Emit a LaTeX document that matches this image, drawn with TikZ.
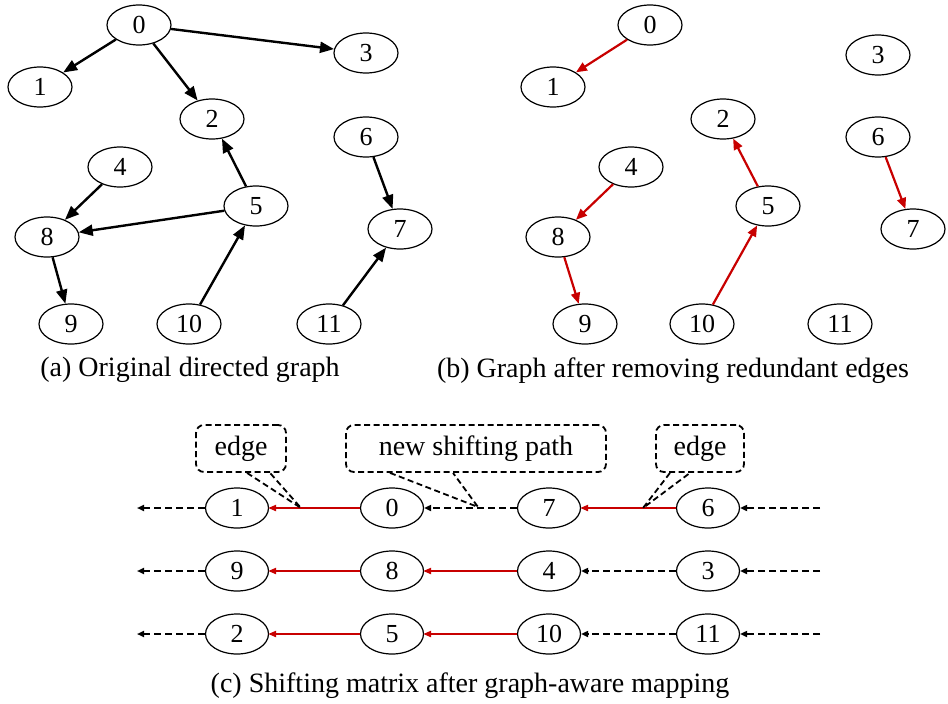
\documentclass[tikz,border=0pt]{standalone}
\usepackage{fontspec}
\setmainfont{Liberation Serif}
\usetikzlibrary{arrows.meta,shapes.geometric,calc}
\definecolor{edgered}{RGB}{200,0,0}
\begin{document}
\begin{tikzpicture}[x=1pt,y=-1pt,
  vtx/.style={draw,ellipse,line width=1.2pt,minimum width=64pt,minimum height=40pt,inner sep=0pt,
              font=\fontsize{26}{30}\selectfont},
  blk/.style={line width=2.4pt,-{Triangle[length=14pt,width=11pt]}},
  redge/.style={draw=edgered,line width=2.2pt,-{Triangle[length=11pt,width=9pt]}},
  rshift/.style={draw=edgered,line width=2pt,-{Triangle[length=8pt,width=6pt]},shorten >=-1pt},
  dedge/.style={line width=1.8pt,dash pattern=on 7pt off 4pt,-{Triangle[length=7pt,width=6pt]}},
  callout/.style={draw,line width=1.8pt,dash pattern=on 6pt off 3.5pt,rounded corners=8pt,
                  minimum height=47pt,inner sep=0pt,font=\fontsize{28}{33}\selectfont},
  tail/.style={line width=1.8pt,dash pattern=on 6pt off 3.5pt},
  captext/.style={font=\fontsize{28}{33}\selectfont,inner sep=0pt}]
\useasboundingbox (0,0) rectangle (948,704);

% ---------- (a) original directed graph ----------
\node[vtx] (a0) at (139,25) {0};
\node[vtx] (a1) at (40,87) {1};
\node[vtx] (a2) at (212,119) {2};
\node[vtx] (a3) at (366,53) {3};
\node[vtx] (a4) at (120,167) {4};
\node[vtx] (a5) at (256,206) {5};
\node[vtx] (a6) at (366,137) {6};
\node[vtx] (a7) at (400,229) {7};
\node[vtx] (a8) at (47,237) {8};
\node[vtx] (a9) at (71,324) {9};
\node[vtx] (a10) at (189,324) {10};
\node[vtx] (a11) at (329,324) {11};
\draw[blk] (a0) -- (a1);
\draw[blk] (a0) -- (a2);
\draw[blk] (a0) -- (a3);
\draw[blk] (a5) -- (a2);
\draw[blk] (a5) -- (a8);
\draw[blk] (a4) -- (a8);
\draw[blk] (a8) -- (a9);
\draw[blk] (a10) -- (a5);
\draw[blk] (a6) -- (a7);
\draw[blk] (a11) -- (a7);
\node[captext] (capa) at (190,370) {(a) Original directed graph};

% ---------- (b) after removing redundant edges ----------
\node[vtx] (b0) at (650,25) {0};
\node[vtx] (b1) at (553,87) {1};
\node[vtx] (b2) at (723,119) {2};
\node[vtx] (b3) at (878,55) {3};
\node[vtx] (b4) at (631,167) {4};
\node[vtx] (b5) at (768,206) {5};
\node[vtx] (b6) at (878,137) {6};
\node[vtx] (b7) at (913,229) {7};
\node[vtx] (b8) at (558,237) {8};
\node[vtx] (b9) at (585,324) {9};
\node[vtx] (b10) at (702,324) {10};
\node[vtx] (b11) at (840,324) {11};
\draw[redge] (b0) -- (b1);
\draw[redge] (b4) -- (b8);
\draw[redge] (b8) -- (b9);
\draw[redge] (b5) -- (b2);
\draw[redge] (b10) -- (b5);
\draw[redge] (b6) -- (b7);
\node[captext] (capb) at (673,371) {(b) Graph after removing redundant edges};

% ---------- (c) shifting matrix ----------
\foreach \r/\y/\p/\q/\s/\t in {1/508/1/0/7/6, 2/571/9/8/4/3, 3/634/2/5/10/11}{
  \node[vtx,minimum width=63pt] (c\r a) at (237,\y) {\p};
  \node[vtx,minimum width=63pt] (c\r b) at (392,\y) {\q};
  \node[vtx,minimum width=63pt] (c\r c) at (549,\y) {\s};
  \node[vtx,minimum width=63pt] (c\r d) at (708,\y) {\t};
  \coordinate (l\r) at (137,\y);
  \coordinate (r\r) at (820,\y);
  \draw[dedge] (c\r a) -- (l\r);
  \draw[dedge] (r\r) -- (c\r d);
}
\draw[rshift] (c1b) -- (c1a);
\draw[dedge] (c1c) -- (c1b);
\draw[rshift] (c1d) -- (c1c);
\draw[rshift] (c2b) -- (c2a);
\draw[rshift] (c2c) -- (c2b);
\draw[dedge] (c2d) -- (c2c);
\draw[rshift] (c3b) -- (c3a);
\draw[rshift] (c3c) -- (c3b);
\draw[dedge] (c3d) -- (c3c);

% callouts
\node[callout,minimum width=90pt] (k1) at (241,448.5) {edge};
\node[callout,minimum width=260pt] (k2) at (476,448.5) {new shifting path};
\node[callout,minimum width=88pt] (k3) at (700,448.5) {edge};
\coordinate (t1) at (301,508);
\coordinate (t2) at (478,507);
\coordinate (t3) at (643,508);
\draw[tail] ($(k1.south)+(6,0)$) -- (t1) -- ($(k1.south)+(29,0)$);
\draw[tail] ($(k2.south)+(-86,0)$) -- (t2) -- ($(k2.south)+(-23,0)$);
\draw[tail] ($(k3.south)+(-30,0)$) -- (t3) -- ($(k3.south)+(-10,0)$);

\node[captext] (capc) at (470,686) {(c) Shifting matrix after graph-aware mapping};
\end{tikzpicture}
\end{document}
